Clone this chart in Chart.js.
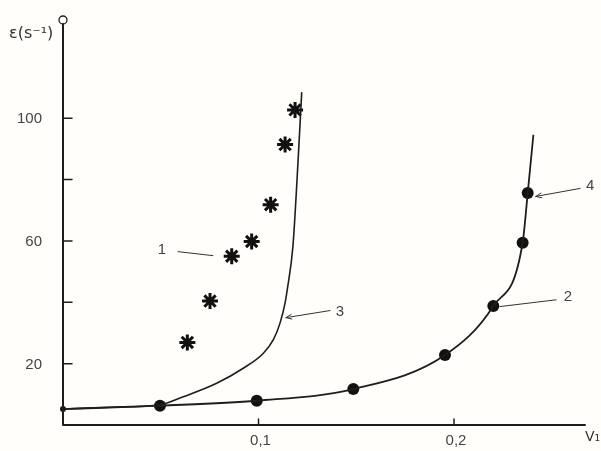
<!DOCTYPE html>
<html>
<head>
<meta charset="utf-8">
<script src="https://cdn.jsdelivr.net/npm/chart.js@4"></script>
<style>
  html, body { margin: 0; padding: 0; background: #fffefa; }
  #wrap { width: 601px; height: 451px; }
</style>
</head>
<body>
<div id="wrap"><canvas id="chart"></canvas></div>
<script>
// series 1 : asterisks
const starX = [0.0636, 0.0752, 0.0863, 0.0965, 0.1062, 0.1136, 0.1187];
const starY = [26.9, 40.4, 55.0, 59.8, 71.8, 91.4, 102.7];
// series 2 : dots
const dotX = [0, 0.0496, 0.0991, 0.1485, 0.1954, 0.2201, 0.2351, 0.2377];
const dotY = [5.2, 6.3, 7.9, 11.7, 22.8, 38.8, 59.4, 75.6];
// curve 3
const c3X = [0, 0.025, 0.0496, 0.0615, 0.0786, 0.0922, 0.1025, 0.1076, 0.1110, 0.1136, 0.1147, 0.1176, 0.1202, 0.1221];
const c3Y = [5.2, 5.8, 6.6, 9.2, 13.6, 18.5, 23.4, 27.8, 33.2, 39.8, 44.1, 58.2, 85.6, 108.5];
// curve 4 (through series 2)
const c4X = [0, 0.0496, 0.0991, 0.1485, 0.1954, 0.2201, 0.2351, 0.2377, 0.2406];
const c4Y = [5.2, 6.3, 7.9, 11.7, 22.8, 38.8, 59.4, 75.6, 94.6];

const yTicks = [20, 40, 60, 80, 100];
const yTickLabels = ['20', '', '60', '', '100'];
const xTicks = [0.1, 0.2];
const xTickLabels = ['0,1', '0,2'];

// curve numbers with leader lines (data units)
const tagText = ['1', '3', '2', '4'];
const tagX = [0.0506, 0.1417, 0.2583, 0.2696];
const tagY = [57.2, 36.9, 41.8, 78.1];
const leadFromX = [0.0588, 0.1366, 0.2522, 0.2645];
const leadFromY = [56.5, 37.3, 40.8, 77.1];
const leadToX = [0.0767, 0.1141, 0.2235, 0.2419];
const leadToY = [55.2, 35.0, 38.6, 74.5];
const leadArrow = [false, true, false, true];

const pts = (xs, ys) => xs.map((x, i) => ({ x: x, y: ys[i] }));
const ink = '#1e1e1e';

const drawing = {
  id: 'drawing',
  afterDraw(chart) {
    const ctx = chart.ctx;
    const xs = chart.scales.x, ys = chart.scales.y;
    const a = chart.chartArea;
    ctx.save();
    ctx.strokeStyle = ink;
    ctx.lineCap = 'round';
    // axes
    ctx.lineWidth = 2;
    ctx.beginPath();
    ctx.moveTo(a.left, a.bottom);
    ctx.lineTo(a.left, a.top + 4);
    ctx.moveTo(a.left, a.bottom);
    ctx.lineTo(a.right, a.bottom);
    ctx.stroke();
    ctx.lineWidth = 1.3;
    ctx.beginPath();
    ctx.arc(a.left, a.top, 4, 0, Math.PI * 2);
    ctx.stroke();
    // ticks
    ctx.lineWidth = 1.5;
    ctx.fillStyle = '#444';
    ctx.font = '15px "Liberation Sans", sans-serif';
    ctx.textBaseline = 'middle';
    ctx.textAlign = 'right';
    yTicks.forEach((v, i) => {
      const py = ys.getPixelForValue(v);
      ctx.beginPath();
      ctx.moveTo(a.left, py);
      ctx.lineTo(a.left + 9, py);
      ctx.stroke();
      if (yTickLabels[i]) ctx.fillText(yTickLabels[i], a.left - 21, py + 1);
    });
    ctx.textAlign = 'center';
    xTicks.forEach((v, i) => {
      const px = xs.getPixelForValue(v);
      ctx.beginPath();
      ctx.moveTo(px, a.bottom);
      ctx.lineTo(px, a.bottom - 6);
      ctx.stroke();
      ctx.fillText(xTickLabels[i], px + 2, a.bottom + 16);
    });
    // axis titles
    ctx.font = '16px "DejaVu Sans", sans-serif';
    ctx.fillStyle = '#333';
    ctx.textAlign = 'left';
    ctx.fillText('ε(s⁻¹)', a.left - 54, a.top + 14);
    ctx.font = '14px "DejaVu Sans", sans-serif';
    ctx.fillText('V₁', a.right, a.bottom + 12);
    // curve tags
    ctx.font = '15px "Liberation Sans", sans-serif';
    ctx.fillStyle = '#444';
    ctx.lineWidth = 1;
    ctx.strokeStyle = '#333';
    tagText.forEach((t, i) => {
      ctx.textAlign = 'center';
      ctx.fillText(t, xs.getPixelForValue(tagX[i]), ys.getPixelForValue(tagY[i]));
      const x1 = xs.getPixelForValue(leadFromX[i]), y1 = ys.getPixelForValue(leadFromY[i]);
      const x2 = xs.getPixelForValue(leadToX[i]), y2 = ys.getPixelForValue(leadToY[i]);
      ctx.beginPath();
      ctx.moveTo(x1, y1);
      ctx.lineTo(x2, y2);
      if (leadArrow[i]) {
        const ang = Math.atan2(y2 - y1, x2 - x1);
        ctx.moveTo(x2, y2);
        ctx.lineTo(x2 - 6 * Math.cos(ang - 0.4), y2 - 6 * Math.sin(ang - 0.4));
        ctx.moveTo(x2, y2);
        ctx.lineTo(x2 - 6 * Math.cos(ang + 0.4), y2 - 6 * Math.sin(ang + 0.4));
      }
      ctx.stroke();
    });
    ctx.restore();
  }
};

new Chart(document.getElementById('chart'), {
  type: 'scatter',
  data: {
    datasets: [
      {
        label: '3',
        data: pts(c3X, c3Y),
        showLine: true,
        cubicInterpolationMode: 'monotone',
        borderColor: ink,
        borderWidth: 1.6,
        pointRadius: 0,
        fill: false
      },
      {
        label: '4',
        data: pts(c4X, c4Y),
        showLine: true,
        cubicInterpolationMode: 'monotone',
        borderColor: ink,
        borderWidth: 1.8,
        pointRadius: 0,
        fill: false
      },
      {
        label: '1',
        data: pts(starX, starY),
        pointStyle: 'star',
        pointRadius: 8,
        borderWidth: 3,
        borderColor: '#111',
        backgroundColor: '#111'
      },
      {
        label: '2',
        data: pts(dotX, dotY),
        pointStyle: 'circle',
        pointRadius: dotX.map(x => x === 0 ? 3 : 6),
        borderWidth: 0,
        backgroundColor: '#111'
      }
    ]
  },
  options: {
    responsive: true,
    maintainAspectRatio: false,
    animation: false,
    layout: { padding: { left: 63, right: 16, top: 20, bottom: 26 } },
    plugins: { legend: { display: false }, tooltip: { enabled: false } },
    scales: {
      x: { type: 'linear', min: 0, max: 0.267, display: false },
      y: { type: 'linear', min: 0, max: 132, display: false }
    },
    clip: false
  },
  plugins: [drawing]
});
</script>
</body>
</html>
